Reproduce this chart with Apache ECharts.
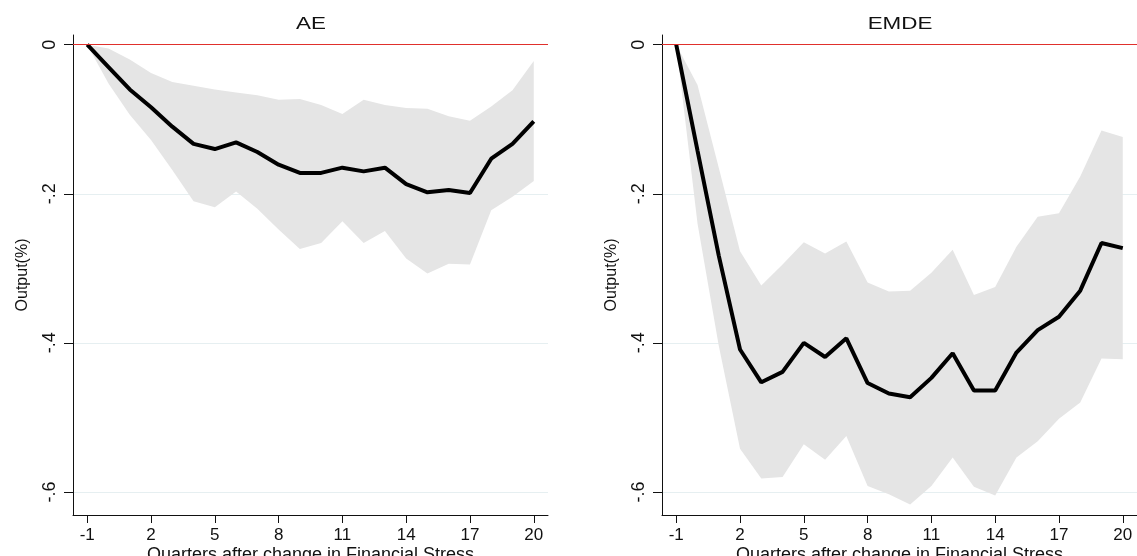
<!DOCTYPE html>
<html>
<head>
<meta charset="utf-8">
<script src="https://cdn.jsdelivr.net/npm/echarts@6/dist/echarts.min.js"></script>
<style>
html,body{margin:0;padding:0;background:#fff;}
#chart{width:1137px;height:556px;}
</style>
</head>
<body>
<div id="chart"></div>
<script>
// Horizon (quarters after change in financial stress)
const quarters = [-1,0,1,2,3,4,5,6,7,8,9,10,11,12,13,14,15,16,17,18,19,20];
const xTicks = [-1,2,5,8,11,14,17,20];
const yTicks = [0,-0.2,-0.4,-0.6];
const panelTitles = ['AE','EMDE'];

// AE
const aeMean  = [0,-0.030,-0.060,-0.084,-0.110,-0.133,-0.140,-0.131,-0.144,-0.161,-0.172,-0.172,-0.165,-0.170,-0.165,-0.187,-0.198,-0.195,-0.199,-0.153,-0.133,-0.103];
const aeUpper = [0,-0.005,-0.020,-0.038,-0.050,-0.055,-0.060,-0.064,-0.068,-0.074,-0.073,-0.081,-0.093,-0.074,-0.081,-0.085,-0.086,-0.096,-0.102,-0.083,-0.061,-0.022];
const aeLower = [0,-0.052,-0.094,-0.128,-0.168,-0.210,-0.218,-0.197,-0.220,-0.248,-0.274,-0.266,-0.237,-0.266,-0.250,-0.287,-0.307,-0.294,-0.295,-0.222,-0.204,-0.183];

// EMDE
const emdeMean  = [0,-0.142,-0.283,-0.409,-0.453,-0.439,-0.400,-0.419,-0.394,-0.454,-0.468,-0.473,-0.447,-0.414,-0.464,-0.464,-0.413,-0.383,-0.365,-0.330,-0.266,-0.273];
const emdeUpper = [0,-0.054,-0.165,-0.277,-0.323,-0.295,-0.265,-0.280,-0.264,-0.319,-0.331,-0.330,-0.306,-0.275,-0.336,-0.325,-0.271,-0.231,-0.226,-0.177,-0.115,-0.124];
const emdeLower = [0,-0.240,-0.404,-0.542,-0.582,-0.580,-0.536,-0.557,-0.525,-0.592,-0.603,-0.617,-0.592,-0.554,-0.593,-0.605,-0.554,-0.532,-0.502,-0.480,-0.421,-0.422];

const FONT = '"Liberation Sans", Arial, Helvetica, sans-serif';

function pairs(ys){ return quarters.map((q,i)=>[q, ys[i]]); }
function bandRows(lo, up){ return quarters.map((q,i)=>[q, lo[i], up[i]]); }

function xAxisFor(idx){
  return {
    type:'value', gridIndex: idx, min:-1.67, max:20.67,
    name:'Quarters after change in Financial Stress', nameLocation:'middle', nameGap:31, nameMoveOverlap:false,
    nameTextStyle:{fontFamily:FONT, fontSize:18, color:'#111'},
    axisLine:{show:true, onZero:false, lineStyle:{color:'#111', width:1}},
    axisTick:{show:true, length:8, customValues:xTicks, lineStyle:{color:'#111'}},
    axisLabel:{show:true, customValues:xTicks, fontFamily:FONT, fontSize:17, color:'#111', margin:12},
    splitLine:{show:false}
  };
}
function yAxisFor(idx){
  return {
    type:'value', gridIndex: idx, min:-0.631, max:0.013,
    name:'Output(%)', nameLocation:'middle', nameGap:42, nameMoveOverlap:false,
    nameTextStyle:{fontFamily:FONT, fontSize:16, color:'#111'},
    axisLine:{show:true, onZero:false, lineStyle:{color:'#111', width:1}},
    axisTick:{show:true, length:9, customValues:yTicks, lineStyle:{color:'#111'}},
    axisLabel:{show:true, customValues:yTicks, rotate:90, fontFamily:FONT, fontSize:18, color:'#111', margin:14,
      formatter: v => (Math.abs(v) < 1e-9 ? '0' : (v < 0 ? '-' : '') + String(Math.abs(v)).replace(/^0/, ''))},
    splitLine:{show:true, lineStyle:{color:'#e6eff1', width:1}}
  };
}

function bandRender(params, api){
  if (params.dataIndexInside !== 0) return null;
  const data = params.context.rows;
  const upperPts = [], lowerPts = [];
  for (let i = 0; i < data.length; i++){
    upperPts.push(api.coord([data[i][0], data[i][2]]));
    lowerPts.push(api.coord([data[i][0], data[i][1]]));
  }
  const pts = upperPts.concat(lowerPts.reverse());
  return {type:'polygon', shape:{points:pts}, style:{fill:'#e5e5e5', stroke:null}, silent:true};
}

function seriesFor(idx, mean, up, lo){
  const rows = bandRows(lo, up);
  return [
    {type:'custom', xAxisIndex:idx, yAxisIndex:idx, data:rows, z:2, silent:true,
     encode:{x:0, y:[1,2]},
     renderItem:(params, api)=>{ params.context.rows = rows; return bandRender(params, api); }},
    {type:'line', xAxisIndex:idx, yAxisIndex:idx, data:pairs(mean), symbol:'none',
     lineStyle:{color:'#000', width:4}, z:4, silent:true,
     markLine:{silent:true, symbol:'none', label:{show:false}, animation:false,
       lineStyle:{color:'#e0302c', width:1, type:'solid'}, data:[{yAxis:0}]}}
  ];
}

function titleText(txt, cx){
  return {type:'text', x:cx, y:25, scaleX:1.4, z:10, silent:true,
    style:{text:txt, fontFamily:FONT, fontSize:16, fill:'#111', align:'center', verticalAlign:'middle'}};
}

const chart = echarts.init(document.getElementById('chart'), null, {renderer:'canvas'});
chart.setOption({
  animation:false,
  backgroundColor:'#fff',
  graphic:[titleText(panelTitles[0], 311), titleText(panelTitles[1], 900)],
  grid:[
    {left:73, right:589, top:35, bottom:41, outerBoundsMode:'none', containLabel:false},
    {left:662, right:0, top:35, bottom:41, outerBoundsMode:'none', containLabel:false}
  ],
  xAxis:[xAxisFor(0), xAxisFor(1)],
  yAxis:[yAxisFor(0), yAxisFor(1)],
  series:[].concat(seriesFor(0, aeMean, aeUpper, aeLower), seriesFor(1, emdeMean, emdeUpper, emdeLower))
});
</script>
</body>
</html>
